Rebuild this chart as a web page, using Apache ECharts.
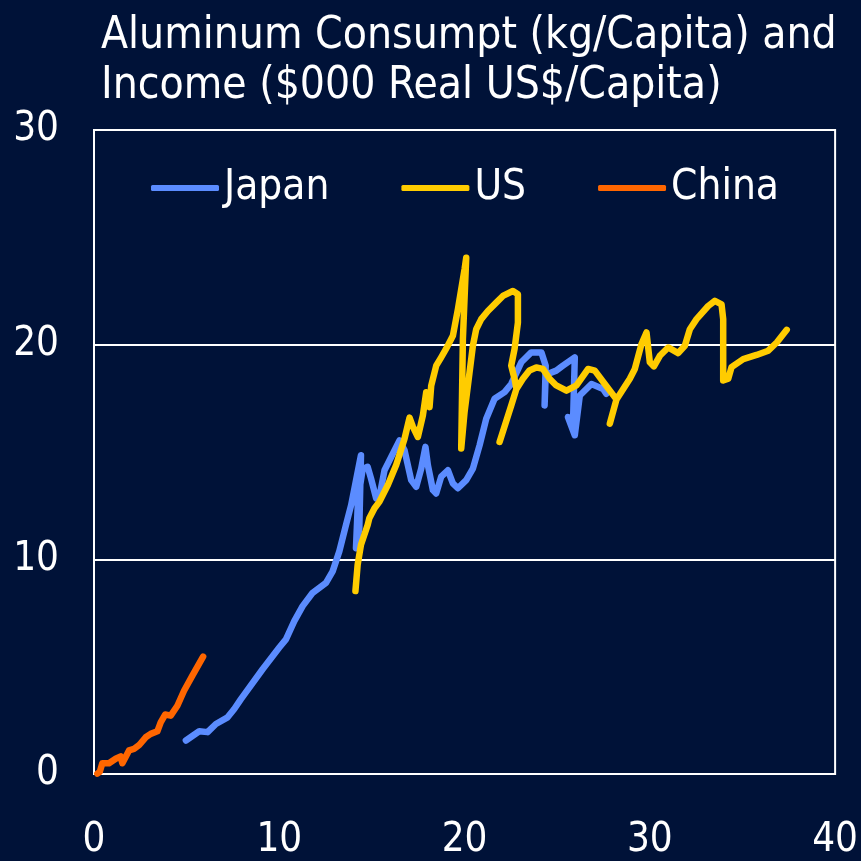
<!DOCTYPE html>
<html>
<head>
<meta charset="utf-8">
<script src="https://cdn.jsdelivr.net/npm/echarts@6/dist/echarts.min.js"></script>
<style>
  html, body { margin: 0; padding: 0; background: #001238; }
  #chart { width: 861px; height: 861px; }
</style>
</head>
<body>
<div id="chart"></div>
<script>
// income ($000/capita) vs aluminium use (kg/capita)
const japan = [
  [4.96, 1.56], [5.68, 1.99], [6.13, 1.95], [6.58, 2.33], [7.21, 2.64], [7.57, 3.03],
  [7.93, 3.49], [9.1, 4.88], [10.0, 5.89], [10.36, 6.27], [10.81, 7.12], [11.26, 7.82],
  [11.8, 8.44], [12.52, 8.9], [12.88, 9.44], [13.24, 10.37], [13.6, 11.6], [13.88, 12.53],
  [14.41, 14.85], [14.32, 11.45], [14.14, 10.52], [14.25, 12.8], [14.5, 14.2], [14.77, 14.31],
  [14.95, 13.77], [15.23, 12.84], [15.4, 12.9], [15.68, 14.15], [16.04, 14.77], [16.49, 15.54],
  [16.76, 15.08], [17.12, 13.69], [17.39, 13.38], [17.66, 14.23], [17.89, 15.24], [18.02, 14.39],
  [18.29, 13.23], [18.47, 13.07], [18.74, 13.85], [19.1, 14.15], [19.37, 13.54], [19.64, 13.31],
  [20.09, 13.69], [20.45, 14.23], [20.81, 15.31], [21.17, 16.55], [21.62, 17.48], [22.16, 17.79],
  [22.52, 18.17], [23.06, 19.18], [23.6, 19.64], [24.15, 19.64], [24.38, 19.02], [24.32, 17.17],
  [24.38, 18.6], [24.95, 18.79], [25.31, 19.02], [25.95, 19.41], [25.86, 16.55], [25.58, 16.63],
  [25.95, 15.78], [26.22, 17.63], [26.85, 18.17], [27.48, 17.94], [27.65, 17.71]
]
const us = [
  [14.11, 8.52], [14.23, 9.75], [14.41, 10.68], [14.77, 11.6], [14.86, 11.91], [15.14, 12.38],
  [15.41, 12.69], [15.86, 13.46], [16.31, 14.39], [16.76, 15.62], [17.03, 16.6], [17.2, 16.2],
  [17.48, 15.7], [17.75, 16.7], [17.93, 17.78], [18.11, 17.09], [18.2, 18.09], [18.47, 19.02],
  [18.74, 19.41], [19.0, 19.8], [19.37, 20.41], [19.64, 21.65], [19.82, 22.58], [20.0, 23.51],
  [20.09, 24.05], [19.91, 20.26], [19.82, 15.16], [20.0, 16.86], [20.18, 18.09], [20.45, 19.95],
  [20.63, 20.72], [20.9, 21.19], [21.26, 21.57], [21.71, 21.96], [22.07, 22.27], [22.61, 22.5],
  [22.88, 22.35], [22.88, 21.03], [22.7, 19.8], [22.52, 19.02], [22.7, 18.4], [22.8, 17.94],
  [22.52, 17.17], [21.89, 15.47], [22.52, 17.17], [22.8, 17.94], [23.15, 18.41], [23.5, 18.8],
  [23.87, 18.94], [24.23, 18.87], [24.59, 18.41], [24.95, 18.1], [25.5, 17.86], [26.04, 18.1],
  [26.67, 18.87], [27.03, 18.79], [27.57, 18.17], [28.2, 17.45], [27.84, 16.32], [28.2, 17.45],
  [28.92, 18.41], [29.19, 18.87], [29.55, 20.03], [29.82, 20.57], [30.0, 19.18], [30.22, 18.99],
  [30.54, 19.48], [30.99, 19.87], [31.53, 19.61], [31.89, 19.95], [32.16, 20.72], [32.52, 21.19],
  [33.15, 21.8], [33.51, 22.04], [33.87, 21.88], [33.96, 21.19], [33.96, 18.33], [34.23, 18.41],
  [34.41, 18.95], [35.04, 19.33], [35.76, 19.52], [36.39, 19.72], [36.85, 20.1], [37.39, 20.69]
]
const china = [
  [0.18, 0.02], [0.31, 0.1], [0.45, 0.5], [0.81, 0.5], [1.17, 0.71], [1.44, 0.82],
  [1.53, 0.5], [1.89, 1.1], [2.16, 1.17], [2.43, 1.34], [2.79, 1.71], [3.06, 1.87],
  [3.42, 1.99], [3.6, 2.41], [3.84, 2.77], [4.14, 2.72], [4.5, 3.18], [4.86, 3.88],
  [5.31, 4.58], [5.89, 5.47]
]

const seriesNames = ['Japan', 'US', 'China']
const seriesColors = ['#5b8cff', '#ffcc00', '#ff6600']
const seriesData = [japan, us, china]

const font = "'DejaVu Sans Condensed', 'Liberation Sans Narrow', 'DejaVu Sans', sans-serif"

const chart = echarts.init(document.getElementById('chart'), null, { renderer: 'canvas' })

chart.setOption({
  animation: false,
  backgroundColor: '#001238',
  title: {
    text: 'Aluminum Consumpt (kg/Capita) and\nIncome ($000 Real US$/Capita)',
    left: 96,
    top: 7,
    textStyle: {
      color: '#ffffff',
      fontFamily: font,
      fontWeight: 'normal',
      fontSize: 44,
      lineHeight: 50,
      textShadowColor: '#000000',
      textShadowOffsetX: 2,
      textShadowOffsetY: 2,
      textShadowBlur: 0,
    },
  },
  legend: {
    left: 146,
    top: 162,
    icon: 'roundRect',
    itemWidth: 68,
    itemHeight: 6,
    itemGap: 72,
    data: seriesNames,
    textStyle: { color: '#ffffff', fontFamily: font, fontSize: 42, padding: [0, 0, 0, 0] },
  },
  grid: {
    left: 94,
    right: 24,
    top: 130,
    bottom: 84,
    show: true,
    borderColor: '#ffffff',
    borderWidth: 2,
  },
  xAxis: {
    type: 'value',
    min: 0,
    max: 40,
    interval: 10,
    axisLine: { show: false },
    axisTick: { show: false },
    splitLine: { show: false },
    axisLabel: { color: '#ffffff', fontFamily: font, fontSize: 40, margin: 47 },
  },
  yAxis: {
    type: 'value',
    min: 0,
    max: 30,
    interval: 10,
    axisLine: { show: false },
    axisTick: { show: false },
    splitLine: { lineStyle: { color: '#ffffff', width: 2 } },
    axisLabel: { color: '#ffffff', fontFamily: font, fontSize: 40, margin: 35 },
  },
  series: seriesNames.map((name, i) => ({
    name,
    type: 'line',
    data: seriesData[i],
    showSymbol: false,
    symbol: 'none',
    lineStyle: { color: seriesColors[i], width: 6.5, cap: 'round', join: 'round' },
    itemStyle: { color: seriesColors[i] },
  })),
})
</script>
</body>
</html>
